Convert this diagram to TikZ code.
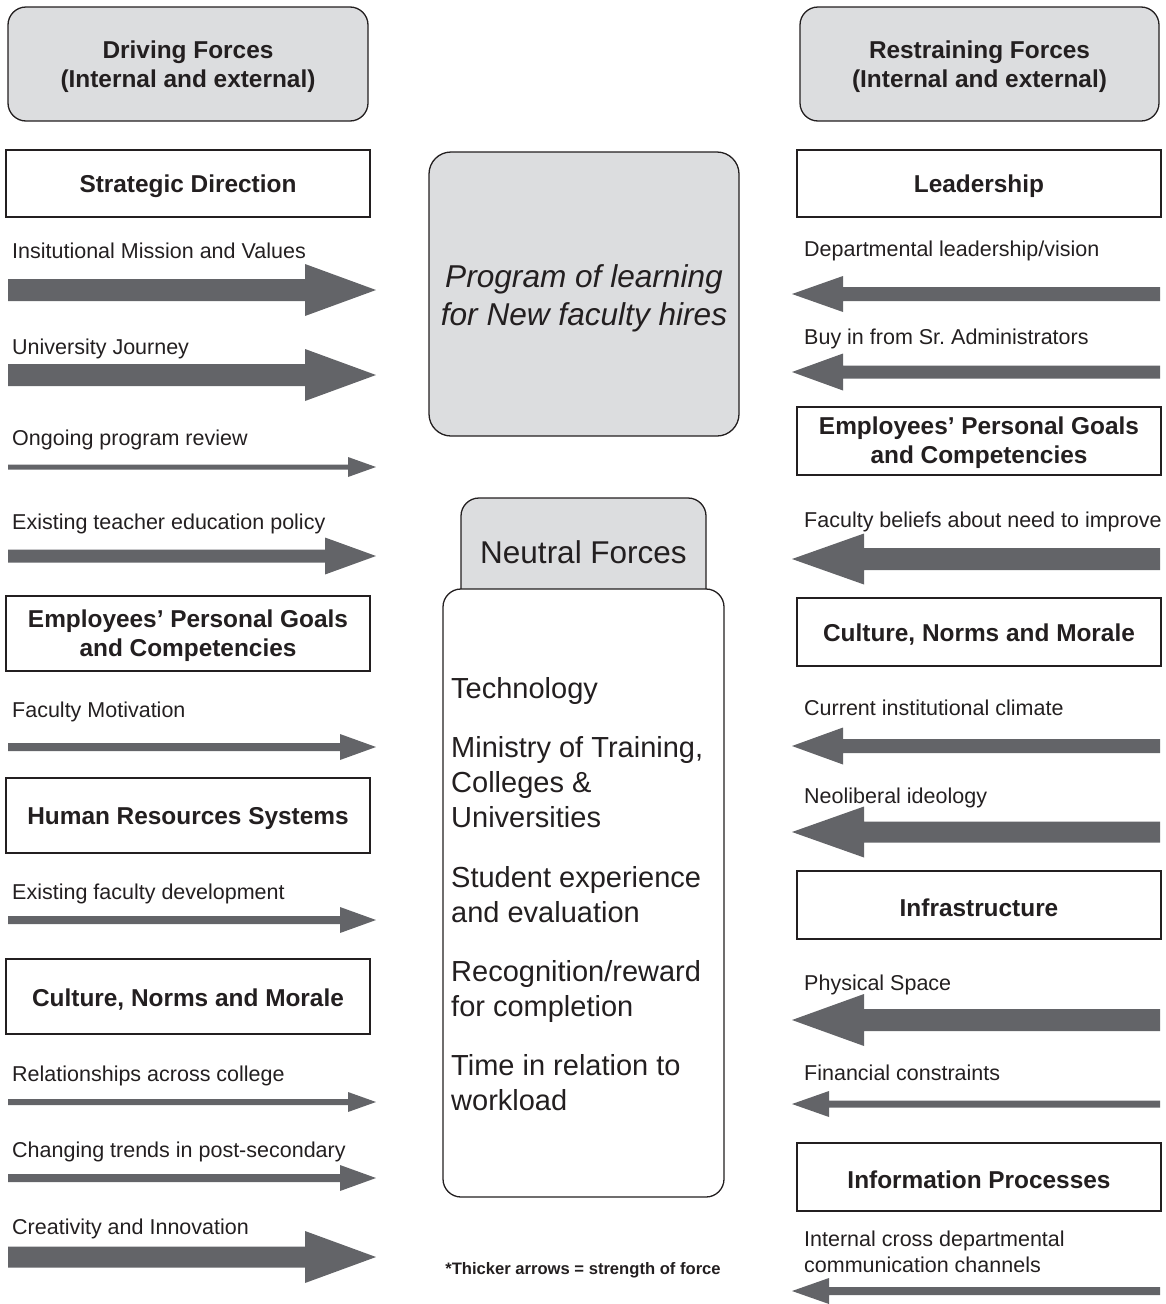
\documentclass[tikz,border=0pt]{standalone}
\usepackage{fontspec}
\setmainfont{Liberation Sans}
\definecolor{arrowgray}{HTML}{636468}
\definecolor{boxgray}{HTML}{DCDDDF}
\definecolor{edgecol}{HTML}{231F20}
\definecolor{txt}{HTML}{231F20}
% #1 centre y, #2 shaft half width, #3 head half width, #4 head base x
\newcommand\forceright[4]{%
  \fill[arrowgray] (8,{#1-#2}) -- (#4,{#1-#2}) -- (#4,{#1-#3}) -- (376,#1)
    -- (#4,{#1+#3}) -- (#4,{#1+#2}) -- (8,{#1+#2}) -- cycle;}
\newcommand\forceleft[4]{%
  \fill[arrowgray] (1160,{#1-#2}) -- (#4,{#1-#2}) -- (#4,{#1-#3}) -- (792,#1)
    -- (#4,{#1+#3}) -- (#4,{#1+#2}) -- (1160,{#1+#2}) -- cycle;}
\begin{document}
\begin{tikzpicture}[x=1pt,y=-1pt,
  every node/.style={text=txt, inner sep=0pt},
  headbox/.style={draw=edgecol, line width=1.3pt, fill=boxgray, rounded corners=18pt,
    minimum width=360pt, minimum height=114pt},
  catbox/.style={draw=edgecol, line width=1.3pt, fill=white, minimum width=364pt},
  boldtext/.style={align=center, font=\fontsize{24.4}{29}\selectfont\bfseries},
  lab/.style={anchor=base west, font=\fontsize{21.5}{26}\selectfont},
  neutral/.style={anchor=base west, font=\fontsize{29}{35}\selectfont},
]
\useasboundingbox (0,0) rectangle (1165,1304);

% headers
\node[headbox] (dhead) at (188,64) {};
\node[boldtext] (dheadt) at ([yshift=-3pt]dhead.center) {Driving Forces\\(Internal and external)};
\node[headbox, minimum width=359pt] (rhead) at (979.5,64) {};
\node[boldtext] (rheadt) at ([yshift=-3pt]rhead.center) {Restraining Forces\\(Internal and external)};

% left category boxes
\node[catbox, minimum height=67pt] (lsd) at (188,183.5) {};
\node[boldtext] (lsdt) at ([yshift=-3pt]lsd.center) {Strategic Direction};
\node[catbox, minimum height=75pt] (lemp) at (188,633.5) {};
\node[boldtext] (lempt) at ([yshift=-2.5pt]lemp.center) {Employees’ Personal Goals\\and Competencies};
\node[catbox, minimum height=75pt] (lhr) at (188,815.5) {};
\node[boldtext] (lhrt) at ([yshift=-3pt]lhr.center) {Human Resources Systems};
\node[catbox, minimum height=75pt] (lcul) at (188,996.5) {};
\node[boldtext] (lcult) at ([yshift=-3pt]lcul.center) {Culture, Norms and Morale};

% right category boxes
\node[catbox, minimum height=67pt] (rlead) at (979,183.5) {};
\node[boldtext] (rleadt) at ([yshift=-3pt]rlead.center) {Leadership};
\node[catbox, minimum height=68pt] (remp) at (979,441) {};
\node[boldtext] (rempt) at ([yshift=-2pt]remp.center) {Employees’ Personal Goals\\and Competencies};
\node[catbox, minimum height=68pt] (rcul) at (979,632) {};
\node[boldtext] (rcult) at ([yshift=-3pt]rcul.center) {Culture, Norms and Morale};
\node[catbox, minimum height=68pt] (rinf) at (979,905) {};
\node[boldtext] (rinft) at ([yshift=-3pt]rinf.center) {Infrastructure};
\node[catbox, minimum height=68pt] (rinfo) at (979,1177) {};
\node[boldtext] (rinfot) at ([yshift=-3pt]rinfo.center) {Information Processes};

% centre: program box
\node[draw=edgecol, line width=1.3pt, fill=boxgray, rounded corners=22pt,
  minimum width=310pt, minimum height=284pt] (prog) at (584,294) {};
\node[align=center, font=\fontsize{31.6}{38}\selectfont\itshape] (progt)
  at ([yshift=-4pt]prog.center) {Program of learning\\for New faculty hires};

% neutral forces
\node[draw=edgecol, line width=1.3pt, fill=boxgray, rounded corners=18pt,
  minimum width=245pt, minimum height=112pt] (ngray) at (583.5,554) {};
\node[font=\fontsize{31.5}{36}\selectfont] (ntitle) at (583.5,552) {Neutral Forces};
\node[draw=edgecol, line width=1.3pt, fill=white, rounded corners=18pt,
  minimum width=281pt, minimum height=608pt] (nbox) at (583.5,893) {};

\node[neutral] (n1) at (451,698) {Technology};
\node[neutral] (n2) at (451,757) {Ministry of Training,};
\node[neutral] (n3) at (451,792) {Colleges \&};
\node[neutral] (n4) at (451,827) {Universities};
\node[neutral] (n5) at (451,887) {Student experience};
\node[neutral] (n6) at (451,922) {and evaluation};
\node[neutral] (n7) at (451,981) {Recognition/reward};
\node[neutral] (n8) at (451,1016) {for completion};
\node[neutral] (n9) at (451,1075) {Time in relation to};
\node[neutral] (n10) at (451,1110) {workload};

\node[font=\fontsize{16.6}{20}\selectfont\bfseries] (note) at (583,1270)
  {*Thicker arrows = strength of force};

% left labels
\node[lab] (l1) at (12,258) {Insitutional Mission and Values};
\node[lab] (l2) at (12,354) {University Journey};
\node[lab] (l3) at (12,445) {Ongoing program review};
\node[lab] (l4) at (12,529) {Existing teacher education policy};
\node[lab] (l5) at (12,717) {Faculty Motivation};
\node[lab] (l6) at (12,899) {Existing faculty development};
\node[lab] (l7) at (12,1081) {Relationships across college};
\node[lab] (l8) at (12,1157) {Changing trends in post-secondary};
\node[lab] (l9) at (12,1234) {Creativity and Innovation};

% right labels
\node[lab] (r1) at (804,256) {Departmental leadership/vision};
\node[lab] (r2) at (804,344) {Buy in from Sr.\ Administrators};
\node[lab] (r3) at (804,527) {Faculty beliefs about need to improve};
\node[lab] (r4) at (804,715) {Current institutional climate};
\node[lab] (r5) at (804,803) {Neoliberal ideology};
\node[lab] (r6) at (804,990) {Physical Space};
\node[lab] (r7) at (804,1080) {Financial constraints};
\node[lab] (r8a) at (804,1246) {Internal cross departmental};
\node[lab] (r8b) at (804,1272) {communication channels};

% driving force arrows
\forceright{290}{11}{26}{305}
\forceright{375}{11}{26}{305}
\forceright{467}{2.5}{10}{348}
\forceright{556}{6.5}{18.5}{325}
\forceright{747}{4}{13}{340}
\forceright{920}{4}{13}{340}
\forceright{1102}{3}{10}{348}
\forceright{1178}{4}{13}{340}
\forceright{1257}{10.5}{26}{305}

% restraining force arrows
\forceleft{294}{7}{18}{843}
\forceleft{372}{6.5}{18.5}{843}
\forceleft{559}{11}{25.5}{864}
\forceleft{746}{7}{18.5}{843}
\forceleft{832}{10.5}{25.5}{864}
\forceleft{1020}{11}{26}{864}
\forceleft{1104}{3.5}{13}{829}
\forceleft{1291}{4}{13}{829}
\end{tikzpicture}
\end{document}
